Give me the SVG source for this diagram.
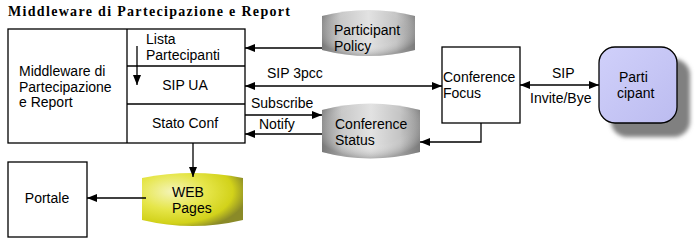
<svg xmlns="http://www.w3.org/2000/svg" width="696" height="248" viewBox="0 0 696 248">
<style>
.box{fill:#fff;stroke:#000;stroke-width:1.3}
.ln{fill:none;stroke:#000;stroke-width:1.3}
.t{font-family:"Liberation Sans",Arial,sans-serif;font-size:14px;fill:#000}
.ttl{font-family:"Liberation Serif","Times New Roman",serif;font-size:14px;font-weight:bold;fill:#000}
.cylg{fill:url(#gray)}
</style>
<defs>
<linearGradient id="gray" x1="0" y1="0" x2="1" y2="0">
<stop offset="0" stop-color="#8c8c8c"/>
<stop offset="0.2" stop-color="#c8c8c8"/>
<stop offset="0.5" stop-color="#e2e2e2"/>
<stop offset="0.8" stop-color="#c4c4c4"/>
<stop offset="1" stop-color="#909090"/>
</linearGradient>
<radialGradient id="grayv" cx="0.5" cy="0.4" r="0.6">
<stop offset="0.6" stop-color="#fff" stop-opacity="0"/>
<stop offset="1" stop-color="#555" stop-opacity="0.35"/>
</radialGradient>
<radialGradient id="yel" cx="0.3" cy="0.35" r="0.75">
<stop offset="0" stop-color="#f4f4b8"/>
<stop offset="0.45" stop-color="#e6e64a"/>
<stop offset="0.8" stop-color="#d2d21a"/>
<stop offset="1" stop-color="#8a8a28"/>
</radialGradient>
<linearGradient id="lav" x1="0" y1="0" x2="1" y2="1">
<stop offset="0" stop-color="#d0d0fa"/>
<stop offset="1" stop-color="#bcbcf0"/>
</linearGradient>
<filter id="blur" x="-20%" y="-20%" width="140%" height="140%"><feGaussianBlur stdDeviation="2"/></filter>
<marker id="ah" viewBox="0 0 10 8" refX="10" refY="4" markerWidth="10" markerHeight="8" markerUnits="userSpaceOnUse" orient="auto-start-reverse">
<path d="M0,0 L10,4 L0,8 Z" fill="#000"/>
</marker>
</defs>

<text class="ttl" x="8" y="16" textLength="282" lengthAdjust="spacing">Middleware di Partecipazione e Report</text>

<g id="middleware">
<rect class="box" x="8" y="29" width="237" height="114"/>
<line class="ln" x1="127" y1="29" x2="127" y2="143"/>
<line class="ln" x1="127" y1="66" x2="245" y2="66"/>
<line class="ln" x1="127" y1="104" x2="245" y2="104"/>
<text class="t" x="19" y="76">Middleware di</text>
<text class="t" x="19" y="92">Partecipazione</text>
<text class="t" x="19" y="107">e Report</text>
<text class="t" x="146" y="44">Lista</text>
<text class="t" x="146" y="60">Partecipanti</text>
<text class="t" x="185" y="90" text-anchor="middle">SIP UA</text>
<text class="t" x="185" y="128" text-anchor="middle">Stato Conf</text>
<line class="ln" x1="137" y1="46" x2="137" y2="85" marker-end="url(#ah)"/>
</g>

<g id="participant-policy">
<path class="cylg" d="M322,16 Q368.5,4 415,16 L415,50 Q368.5,62 322,50 Z"/>
<path fill="url(#grayv)" d="M322,16 Q368.5,4 415,16 L415,50 Q368.5,62 322,50 Z"/>
<text class="t" x="334" y="35">Participant</text>
<text class="t" x="334" y="51">Policy</text>
</g>

<g id="conference-status">
<path class="cylg" d="M322,110 Q370,97 420,110 L420,152 Q370,165 322,152 Z"/>
<path fill="url(#grayv)" d="M322,110 Q370,97 420,110 L420,152 Q370,165 322,152 Z"/>
<text class="t" x="335" y="129">Conference</text>
<text class="t" x="335" y="145">Status</text>
</g>

<g id="conference-focus">
<rect class="box" x="442" y="47" width="78" height="76"/>
<text class="t" x="443" y="82">Conference</text>
<text class="t" x="443" y="98">Focus</text>
</g>

<g id="participant">
<rect x="611" y="59" width="79" height="78" rx="16" fill="#808080" filter="url(#blur)"/>
<rect x="599" y="47" width="78" height="76" rx="16" fill="url(#lav)" stroke="#000" stroke-width="1.3"/>
<text class="t" x="619" y="82">Parti</text>
<text class="t" x="617" y="98">cipant</text>
</g>

<g id="web-pages">
<path fill="url(#yel)" d="M142,178 Q192.5,168 243,178 L243,220 Q192.5,232 142,220 Z"/>
<text class="t" x="172" y="197">WEB</text>
<text class="t" x="172" y="213">Pages</text>
</g>

<g id="portale">
<rect class="box" x="8" y="162" width="79" height="75"/>
<text class="t" x="47" y="203" text-anchor="middle">Portale</text>
</g>

<g id="connectors">
<line class="ln" x1="322" y1="48" x2="245" y2="48" marker-end="url(#ah)"/>
<line class="ln" x1="245" y1="86" x2="442" y2="86" marker-start="url(#ah)" marker-end="url(#ah)"/>
<line class="ln" x1="245" y1="115" x2="322" y2="115" marker-end="url(#ah)"/>
<line class="ln" x1="322" y1="134" x2="245" y2="134" marker-end="url(#ah)"/>
<polyline class="ln" points="481,123 481,142 420,142" marker-end="url(#ah)"/>
<line class="ln" x1="520" y1="85" x2="599" y2="85" marker-start="url(#ah)" marker-end="url(#ah)"/>
<line class="ln" x1="193" y1="143" x2="193" y2="177" marker-end="url(#ah)"/>
<line class="ln" x1="146" y1="198" x2="87" y2="198" marker-end="url(#ah)"/>
<text class="t" x="267" y="78">SIP 3pcc</text>
<text class="t" x="251" y="108">Subscribe</text>
<text class="t" x="259" y="129">Notify</text>
<text class="t" x="552" y="78">SIP</text>
<text class="t" x="530" y="103">Invite/Bye</text>
</g>
</svg>
